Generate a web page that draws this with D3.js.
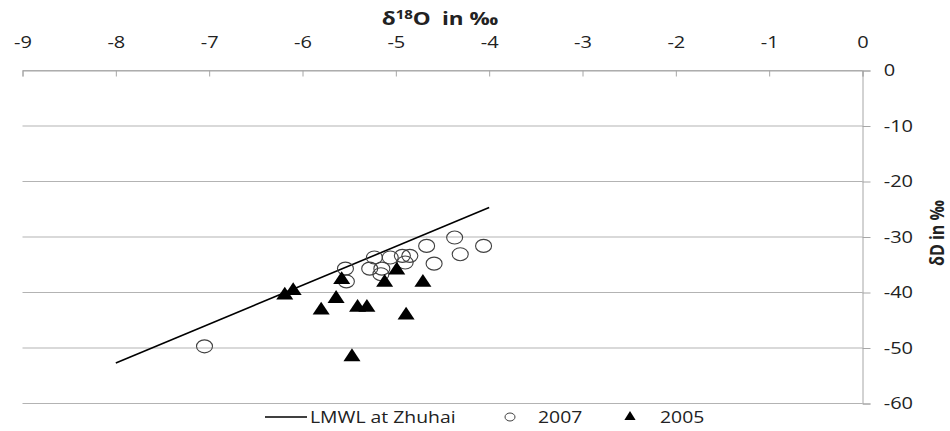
<!DOCTYPE html>
<html>
<head>
<meta charset="utf-8">
<script src="https://cdn.jsdelivr.net/npm/d3@7"></script>
<style>
  body { margin: 0; background: #fff; }
  svg text { font-family: "Open Sans", "Liberation Sans", sans-serif; fill: #222; }
</style>
</head>
<body>
<svg id="chart"></svg>
<script>
// data
const xTicks = [-9, -8, -7, -6, -5, -4, -3, -2, -1, 0];
const yTicks = [0, -10, -20, -30, -40, -50, -60];

const lmwlX = [-8, -4];
const lmwlY = [-52.7, -24.7];

const x2007 = [-7.05, -5.54, -5.53, -5.23, -5.28, -5.15, -5.16, -5.06, -4.93, -4.85, -4.90, -4.67, -4.59, -4.37, -4.31, -4.06];
const y2007 = [-49.7, -35.7, -38.0, -33.7, -35.7, -35.7, -36.7, -33.7, -33.4, -33.4, -34.6, -31.6, -34.8, -30.1, -33.1, -31.6];

const x2005 = [-6.19, -6.10, -5.64, -5.80, -5.58, -5.41, -5.31, -5.12, -4.99, -4.71, -4.89, -5.47];
const y2005 = [-40.5, -39.7, -41.1, -43.2, -37.7, -42.7, -42.7, -38.2, -36.0, -38.2, -44.1, -51.6];

const width = 950, height = 431;
const sx = 1.25; // the original picture is stretched sideways
const svg = d3.select("#chart").attr("width", width).attr("height", height);

const x = d3.scaleLinear().domain([-9, 0]).range([22.5, 862.5]);
const y = d3.scaleLinear().domain([0, -60]).range([70.5, 403.5]);

// gridlines
svg.append("g")
    .selectAll("line")
    .data(yTicks)
    .enter()
    .append("line")
    .attr("x1", x(-9))
    .attr("x2", x(0))
    .attr("y1", d => y(d))
    .attr("y2", d => y(d))
    .attr("stroke", "#b3b3b3")
    .attr("stroke-width", 1);

// top axis (crosses at 0), ticks point down into the plot
const xAxis = d3.axisTop(x).tickValues(xTicks).tickSize(-6).tickPadding(23).tickFormat(d => String(d));
const gx = svg.append("g").attr("transform", `translate(0,${y(0)})`).call(xAxis);
gx.select(".domain").attr("stroke", "#a6a6a6");
gx.selectAll(".tick line").attr("stroke", "#a6a6a6");
gx.selectAll(".tick text")
    .attr("font-size", 16)
    .attr("fill", "#222")
    .attr("transform", `scale(${sx},1)`);

// right axis
const yAxis = d3.axisRight(y).tickValues(yTicks).tickSize(8).tickPadding(9).tickFormat(d => String(d));
const gy = svg.append("g").attr("transform", `translate(${x(0)},0)`).call(yAxis);
gy.select(".domain").attr("stroke", "#a6a6a6");
gy.selectAll(".tick line").attr("stroke", "#a6a6a6");
gy.selectAll(".tick text")
    .attr("font-size", 16)
    .attr("fill", "#222")
    .attr("transform", `scale(${sx},1)`);

// axis titles
const title = svg.append("text")
    .attr("transform", `translate(440,25) scale(${sx},1)`)
    .attr("text-anchor", "middle")
    .attr("font-size", 18)
    .attr("font-weight", "bold");
title.append("tspan").text("δ");
title.append("tspan").attr("font-size", 12).attr("dy", -6).text("18");
title.append("tspan").attr("dy", 6).text("O");
title.append("tspan").attr("dx", 9).text("in ‰");

svg.append("text")
    .attr("transform", `translate(944,${(y(0) + y(-60)) / 2 - 4}) scale(${sx},1) rotate(-90)`)
    .attr("text-anchor", "middle")
    .attr("font-size", 16)
    .attr("font-weight", "bold")
    .text("δD in ‰");

// LMWL line
const lmwl = lmwlX.map((v, i) => [v, lmwlY[i]]);
svg.append("path")
    .attr("d", d3.line().x(d => x(d[0])).y(d => y(d[1]))(lmwl))
    .attr("fill", "none")
    .attr("stroke", "#000")
    .attr("stroke-width", 1.6);

// 2007 circles
const pts2007 = x2007.map((v, i) => [v, y2007[i]]);
svg.append("g")
    .selectAll("ellipse")
    .data(pts2007)
    .enter()
    .append("ellipse")
    .attr("cx", d => x(d[0]))
    .attr("cy", d => y(d[1]))
    .attr("rx", 8)
    .attr("ry", 6.5)
    .attr("fill", "none")
    .attr("stroke", "#404040")
    .attr("stroke-width", 1.1);

// 2005 triangles
const tri = d3.symbol().type(d3.symbolTriangle).size(95);
const pts2005 = x2005.map((v, i) => [v, y2005[i]]);
svg.append("g")
    .selectAll("path")
    .data(pts2005)
    .enter()
    .append("path")
    .attr("d", tri)
    .attr("transform", d => `translate(${x(d[0])},${y(d[1])}) scale(1.15,1)`)
    .attr("fill", "#000");

// legend
const lg = svg.append("g").attr("transform", "translate(0,417)");
lg.append("line").attr("x1", 265).attr("x2", 307).attr("y1", 0).attr("y2", 0)
    .attr("stroke", "#000").attr("stroke-width", 1.6);
lg.append("text").attr("transform", `translate(310,5.5) scale(${sx},1)`)
    .attr("font-size", 15.5).text("LMWL at Zhuhai");
lg.append("ellipse").attr("cx", 510).attr("cy", 0).attr("rx", 5).attr("ry", 4)
    .attr("fill", "none").attr("stroke", "#404040");
lg.append("text").attr("transform", `translate(538,5.5) scale(${sx},1)`)
    .attr("font-size", 15.5).text("2007");
lg.append("path").attr("d", d3.symbol().type(d3.symbolTriangle).size(45))
    .attr("transform", "translate(630,0) scale(1.1,1)").attr("fill", "#000");
lg.append("text").attr("transform", `translate(660,5.5) scale(${sx},1)`)
    .attr("font-size", 15.5).text("2005");
</script>
</body>
</html>
